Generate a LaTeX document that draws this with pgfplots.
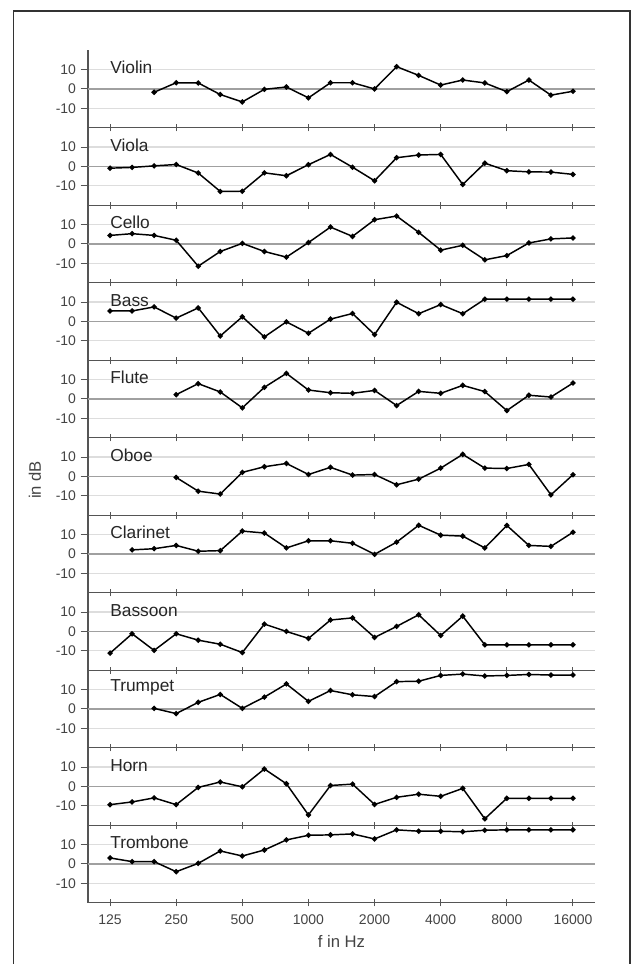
\documentclass[border=0pt]{standalone}
\usepackage{pgfplots}
\pgfplotsset{compat=1.18}
\usepackage{fontspec}
\setmainfont{Liberation Sans}
\definecolor{axisgray}{HTML}{555555}
\definecolor{gridlight}{HTML}{DDDDDD}
\definecolor{gridmid}{HTML}{A0A0A0}
\definecolor{ticktext}{HTML}{444444}
\pgfplotsset{
  every axis/.append style={
    scale only axis, width=380.25pt, height=58.125pt,
    anchor=south west,
    xmin=99.21, xmax=20158.7,
    ymin=-20, ymax=20,
    axis x line*=bottom, axis y line*=left,
    x axis line style={-}, y axis line style={-},
    axis line style={draw=axisgray, line width=0.9pt},
    xtick={125,250,500,1000,2000,4000,8000,16000},
    ytick={-10,10}, extra y ticks={0},
    ymajorgrids, grid style={gridlight, line width=1pt},
    extra y tick style={grid style={gridmid, line width=1pt}},
    xtick align=center, ytick align=outside, major tick length=5.5pt,
    tick style={axisgray, line width=0.75pt},
    /pgf/number format/assume math mode=true,
    yticklabel style={font=\fontsize{10.5pt}{12pt}\selectfont, text=ticktext},
    xticklabel style={font=\fontsize{10.5pt}{12pt}\selectfont, text=ticktext, yshift=-3pt},
  },
  every axis plot post/.append style={black, line width=1.1pt, mark=*, mark size=1.4pt, mark options={solid, fill=black, draw=black}},
}
\tikzset{ttl/.style={anchor=west, inner sep=0pt, font=\fontsize{13pt}{15pt}\selectfont, text=black!85}}
\begin{document}
\begin{tikzpicture}
\useasboundingbox (0,0) rectangle (474pt,723pt);
\draw[black!80, line width=0.9pt] (10pt,-5pt) -- (10pt,714.75pt) -- (472.5pt,714.75pt) -- (472.5pt,-5pt);
% Violin
\begin{axis}[xmode=log, xticklabels={}, at={(66pt,627.225pt)}]
\addplot coordinates {(198.43,-1.7) (250,3.2) (314.98,3.1) (396.85,-2.9) (500,-6.7) (629.96,-0.2) (793.70,1.0) (1000,-4.6) (1259.92,3.2) (1587.40,3.2) (2000,0) (2519.84,11.5) (3174.80,7.0) (4000,2.0) (5039.68,4.6) (6349.60,3.1) (8000,-1.4) (10079.37,4.6) (12699.21,-3.2) (16000,-1.2)};
\node[ttl] at (axis cs:125,11) {Violin};
\end{axis}
% Viola
\begin{axis}[xmode=log, xticklabels={}, at={(66pt,569.1pt)}]
\addplot coordinates {(125,-0.9) (157.49,-0.5) (198.43,0.3) (250,1.0) (314.98,-3.4) (396.85,-12.9) (500,-12.8) (629.96,-3.3) (793.70,-4.8) (1000,0.9) (1259.92,6.2) (1587.40,-0.4) (2000,-7.4) (2519.84,4.5) (3174.80,5.9) (4000,6.2) (5039.68,-9.3) (6349.60,1.7) (8000,-2.2) (10079.37,-2.8) (12699.21,-2.9) (16000,-4.1)};
\node[ttl] at (axis cs:125,11) {Viola};
\end{axis}
% Cello
\begin{axis}[xmode=log, xticklabels={}, at={(66pt,510.975pt)}]
\addplot coordinates {(125,4.4) (157.49,5.3) (198.43,4.4) (250,1.9) (314.98,-11.5) (396.85,-3.9) (500,0.3) (629.96,-3.9) (793.70,-6.8) (1000,0.7) (1259.92,8.7) (1587.40,3.9) (2000,12.5) (2519.84,14.4) (3174.80,6.0) (4000,-3.2) (5039.68,-0.7) (6349.60,-8.2) (8000,-6.0) (10079.37,0.5) (12699.21,2.6) (16000,3.1)};
\node[ttl] at (axis cs:125,11) {Cello};
\end{axis}
% Bass
\begin{axis}[xmode=log, xticklabels={}, at={(66pt,452.85pt)}]
\addplot coordinates {(125,5.4) (157.49,5.4) (198.43,7.5) (250,1.7) (314.98,7.0) (396.85,-7.5) (500,2.4) (629.96,-8.0) (793.70,-0.2) (1000,-6.1) (1259.92,1.2) (1587.40,4.1) (2000,-6.8) (2519.84,9.9) (3174.80,4.0) (4000,8.7) (5039.68,4.0) (6349.60,11.5) (8000,11.5) (10079.37,11.5) (12699.21,11.5) (16000,11.5)};
\node[ttl] at (axis cs:125,11) {Bass};
\end{axis}
% Flute
\begin{axis}[xmode=log, xticklabels={}, at={(66pt,394.725pt)}]
\addplot coordinates {(250,2.2) (314.98,7.9) (396.85,3.6) (500,-4.6) (629.96,6.0) (793.70,13.2) (1000,4.6) (1259.92,3.2) (1587.40,2.9) (2000,4.4) (2519.84,-3.4) (3174.80,3.9) (4000,2.9) (5039.68,7.0) (6349.60,3.8) (8000,-6.0) (10079.37,1.9) (12699.21,1.0) (16000,8.2)};
\node[ttl] at (axis cs:125,11) {Flute};
\end{axis}
% Oboe
\begin{axis}[xmode=log, xticklabels={}, at={(66pt,336.6pt)}]
\addplot coordinates {(250,-0.5) (314.98,-7.6) (396.85,-9.1) (500,2.1) (629.96,5.0) (793.70,6.7) (1000,1.0) (1259.92,4.7) (1587.40,0.7) (2000,1.0) (2519.84,-4.3) (3174.80,-1.4) (4000,4.3) (5039.68,11.4) (6349.60,4.3) (8000,4.1) (10079.37,6.2) (12699.21,-9.5) (16000,0.9)};
\node[ttl] at (axis cs:125,11) {Oboe};
\end{axis}
% Clarinet
\begin{axis}[xmode=log, xticklabels={}, at={(66pt,278.475pt)}]
\addplot coordinates {(157.49,2.1) (198.43,2.7) (250,4.4) (314.98,1.4) (396.85,1.7) (500,11.8) (629.96,10.8) (793.70,3.1) (1000,6.8) (1259.92,6.8) (1587.40,5.5) (2000,-0.2) (2519.84,6.1) (3174.80,14.8) (4000,9.7) (5039.68,9.2) (6349.60,3.1) (8000,14.7) (10079.37,4.4) (12699.21,3.9) (16000,11.2)};
\node[ttl] at (axis cs:125,11) {Clarinet};
\end{axis}
% Bassoon
\begin{axis}[xmode=log, xticklabels={}, at={(66pt,220.35pt)}]
\addplot coordinates {(125,-11.2) (157.49,-1.2) (198.43,-9.8) (250,-1.2) (314.98,-4.5) (396.85,-6.6) (500,-10.9) (629.96,3.8) (793.70,0) (1000,-3.6) (1259.92,5.9) (1587.40,7.0) (2000,-3.1) (2519.84,2.6) (3174.80,8.6) (4000,-2.1) (5039.68,7.9) (6349.60,-6.9) (8000,-6.9) (10079.37,-6.9) (12699.21,-6.9) (16000,-6.9)};
\node[ttl] at (axis cs:125,11) {Bassoon};
\end{axis}
% Trumpet
\begin{axis}[xmode=log, xticklabels={}, at={(66pt,162.225pt)}]
\addplot coordinates {(198.43,0.3) (250,-2.4) (314.98,3.4) (396.85,7.5) (500,0.3) (629.96,6.1) (793.70,12.9) (1000,3.9) (1259.92,9.5) (1587.40,7.3) (2000,6.4) (2519.84,14.1) (3174.80,14.3) (4000,17.3) (5039.68,18.0) (6349.60,17.0) (8000,17.3) (10079.37,17.8) (12699.21,17.5) (16000,17.5)};
\node[ttl] at (axis cs:125,11) {Trumpet};
\end{axis}
% Horn
\begin{axis}[xmode=log, xticklabels={}, at={(66pt,104.1pt)}]
\addplot coordinates {(125,-9.4) (157.49,-8.0) (198.43,-5.9) (250,-9.4) (314.98,-0.5) (396.85,2.3) (500,-0.2) (629.96,9.0) (793.70,1.4) (1000,-14.7) (1259.92,0.5) (1587.40,1.2) (2000,-9.3) (2519.84,-5.6) (3174.80,-4.0) (4000,-5.1) (5039.68,-1.0) (6349.60,-16.7) (8000,-6.1) (10079.37,-6.1) (12699.21,-6.1) (16000,-6.1)};
\node[ttl] at (axis cs:125,11) {Horn};
\end{axis}
% Trombone
\begin{axis}[xmode=log, at={(66pt,45.975pt)},
  xticklabels={125,250,500,1000,2000,4000,8000,16000}]
\addplot coordinates {(125,3.1) (157.49,1.2) (198.43,1.2) (250,-4.0) (314.98,0.3) (396.85,6.7) (500,4.1) (629.96,7.2) (793.70,12.4) (1000,14.8) (1259.92,15.0) (1587.40,15.5) (2000,12.9) (2519.84,17.6) (3174.80,16.9) (4000,16.9) (5039.68,16.6) (6349.60,17.4) (8000,17.6) (10079.37,17.6) (12699.21,17.6) (16000,17.6)};
\node[ttl] at (axis cs:125,11) {Trombone};
\end{axis}
\node[rotate=90, font=\fontsize{12.5pt}{14pt}\selectfont, text=ticktext] at (26.25pt,363pt) {in dB};
\node[font=\fontsize{12.5pt}{14pt}\selectfont, text=ticktext] at (256.1pt,16.7pt) {f in Hz};
\end{tikzpicture}
\end{document}
